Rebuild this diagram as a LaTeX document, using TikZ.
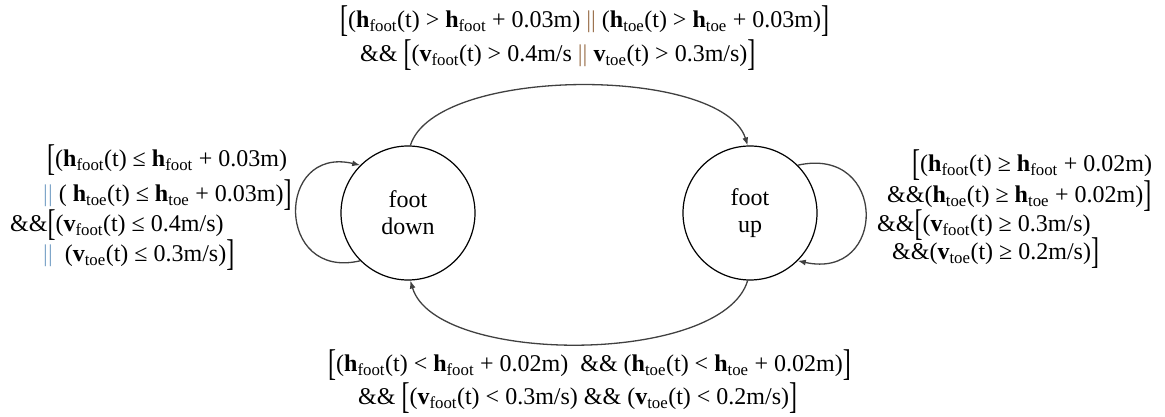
\documentclass[tikz,border=0pt]{standalone}
\usepackage{fontspec}
\setmainfont{Liberation Serif}
\usepackage{graphicx}
\usepackage{xcolor}
\usepackage{tikz}
\usetikzlibrary{arrows.meta,positioning}
\definecolor{ink}{HTML}{404040}
\definecolor{barbrown}{HTML}{9C7350}
\definecolor{barblue}{HTML}{7FA6C9}
\newcommand{\hfoot}{\textbf{h}\textsubscript{foot}}
\newcommand{\htoe}{\textbf{h}\textsubscript{toe}}
\newcommand{\vfoot}{\textbf{v}\textsubscript{foot}}
\newcommand{\vtoe}{\textbf{v}\textsubscript{toe}}
\newcommand{\lbrk}{\raisebox{-0.16em}{\scalebox{1}[1.55]{[}}}
\newcommand{\rbrk}{\raisebox{-0.16em}{\scalebox{1}[1.55]{]}}}
\newcommand{\orbar}[1]{\textcolor{#1}{||}}

\begin{document}
\begin{tikzpicture}[x=1pt,y=1pt]
    \tikzset{
      state/.style={circle,draw=black,line width=1.2pt,minimum size=134pt,inner sep=0pt,align=center,font=\fontsize{24}{27}\selectfont},
      cond/.style={anchor=base west,inner sep=0pt,font=\fontsize{24}{26}\selectfont},
      arrow/.style={-{Latex[length=8pt,width=6pt]},draw=ink,line width=1.3pt}
    }
    \useasboundingbox (0,0) rectangle (1165,417);
    \node[state] (down) at (408,204) {foot\\down};
    \node[state] (up) at (750,204) {foot\\up};
    % transition labels
    \node[cond] (top1) at (340,389) {\lbrk(\hfoot(t) > \hfoot{} + 0.03m) \orbar{barbrown} (\htoe(t) > \htoe{} + 0.03m)\rbrk};
    \node[cond] (top2) at (360,355) {\&\& \lbrk(\vfoot(t) > 0.4m/s \orbar{barbrown} \vtoe(t) > 0.3m/s)\rbrk};
    \node[cond] (left1) at (47,250) {\lbrk(\hfoot(t) ≤ \hfoot{} + 0.03m)};
    \node[cond] (left2) at (43,215) {\orbar{barblue} ( \htoe(t) ≤ \htoe{} + 0.03m)\rbrk};
    \node[cond] (left3) at (10,185) {\&\&\lbrk(\vfoot(t) ≤ 0.4m/s)};
    \node[cond] (left4) at (43,155) {\orbar{barblue}\ \ (\vtoe(t) ≤ 0.3m/s)\rbrk};
    \node[cond] (right1) at (912,245) {\lbrk(\hfoot(t) ≥ \hfoot{} + 0.02m)};
    \node[cond] (right2) at (887,214) {\&\&(\htoe(t) ≥ \htoe{} + 0.02m)\rbrk};
    \node[cond] (right3) at (877,185) {\&\&\lbrk(\vfoot(t) ≥ 0.3m/s)};
    \node[cond] (right4) at (892,157) {\&\&(\vtoe(t) ≥ 0.2m/s)\rbrk};
    \node[cond] (bot1) at (328,45) {\lbrk(\hfoot(t) < \hfoot{} + 0.02m)\ \ \&\& (\htoe(t) < \htoe{} + 0.02m)\rbrk};
    \node[cond] (bot2) at (358,12) {\&\& \lbrk(\vfoot(t) < 0.3m/s) \&\& (\vtoe(t) < 0.2m/s)\rbrk};
    % transitions
    \draw[arrow] (down.88) .. controls +(25,80) and +(-25,80) .. (up.92);
    \draw[arrow] (up.268) .. controls +(-25,-85) and +(25,-85) .. (down.272);
    \draw[arrow] (down.225) .. controls +(-85,-20) and +(-85,20) .. (down.135);
    \draw[arrow] (up.45) .. controls +(90,20) and +(90,-20) .. (up.315);
  \end{tikzpicture}
\end{document}
